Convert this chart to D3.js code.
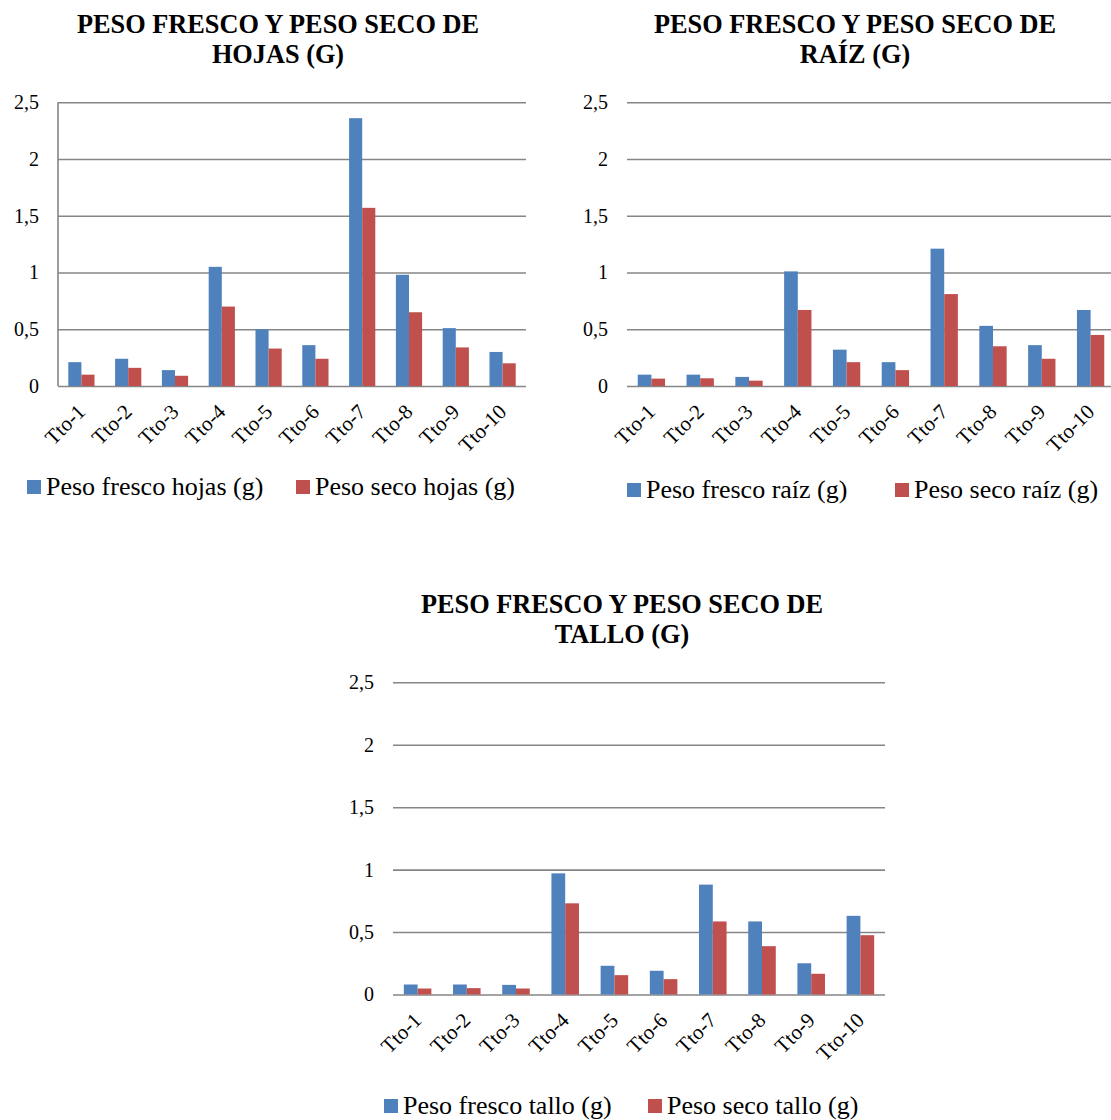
<!DOCTYPE html>
<html>
<head>
<meta charset="utf-8">
<script src="https://cdn.jsdelivr.net/npm/d3@7"></script>
<style>
  html, body { margin: 0; padding: 0; background: #fff; }
  svg { display: block; font-family: "Liberation Serif", "Times New Roman", serif; }
</style>
</head>
<body>
<svg id="chart" width="1111" height="1120"></svg>
<script>
// Treatments on the x axis
const categories = ["Tto-1", "Tto-2", "Tto-3", "Tto-4", "Tto-5", "Tto-6", "Tto-7", "Tto-8", "Tto-9", "Tto-10"];

// Leaves (g)
const hojasFresco = [0.21, 0.24, 0.14, 1.05, 0.50, 0.36, 2.36, 0.98, 0.51, 0.30];
const hojasSeco   = [0.10, 0.16, 0.09, 0.70, 0.33, 0.24, 1.57, 0.65, 0.34, 0.20];

// Root (g)
const raizFresco = [0.10, 0.10, 0.08, 1.01, 0.32, 0.21, 1.21, 0.53, 0.36, 0.67];
const raizSeco   = [0.065, 0.068, 0.047, 0.67, 0.21, 0.14, 0.81, 0.35, 0.24, 0.45];

// Stem (g)
const talloFresco = [0.08, 0.08, 0.077, 0.97, 0.23, 0.19, 0.88, 0.585, 0.25, 0.63];
const talloSeco   = [0.048, 0.051, 0.048, 0.73, 0.155, 0.123, 0.585, 0.387, 0.166, 0.475];

// Shared value axis
const yTicks = [0, 0.5, 1, 1.5, 2, 2.5];
const yMax = 2.5;

const seriesKeys = ["fresco", "seco"];
const colors = { fresco: "#4F81BD", seco: "#C0504D" };
const gridColor = "#868686";
const serif = "Liberation Serif, Times New Roman, serif";

const locale = d3.formatLocale({ decimal: ",", thousands: ".", grouping: [3], currency: ["", " €"] });
const fmt = locale.format(".1~f");

const svg = d3.select("#chart");

function drawChart(cfg) {
  const g = svg.append("g");
  const x0 = d3.scaleBand().domain(categories).range([cfg.left, cfg.right])
    .paddingInner(0.44).paddingOuter(0.22);
  const x1 = d3.scaleBand().domain(seriesKeys).range([0, x0.bandwidth()]);
  const y = d3.scaleLinear().domain([0, yMax]).range([cfg.bottom, cfg.top]);

  // Gridlines + value labels
  const yAxis = d3.axisLeft(y).tickValues(yTicks).tickFormat(fmt)
    .tickSize(-(cfg.right - cfg.left)).tickPadding(19);
  const ya = g.append("g").attr("transform", `translate(${cfg.left},0)`).call(yAxis);
  ya.attr("font-family", serif);
  ya.select(".domain").remove();
  ya.selectAll(".tick line").attr("stroke", gridColor).attr("stroke-width", 1.6);
  ya.selectAll(".tick text").attr("font-size", 20).attr("fill", "#000");

  if (cfg.vAxis) {
    g.append("line").attr("x1", cfg.left).attr("x2", cfg.left)
      .attr("y1", y(yMax)).attr("y2", y(0))
      .attr("stroke", gridColor).attr("stroke-width", 1.6);
  }

  // Bars
  const rows = categories.map((c, i) => ({ cat: c, fresco: cfg.fresco[i], seco: cfg.seco[i] }));
  const groups = g.append("g").selectAll("g").data(rows).join("g")
    .attr("transform", d => `translate(${x0(d.cat)},0)`);
  groups.selectAll("rect").data(d => seriesKeys.map(k => ({ key: k, value: d[k] }))).join("rect")
    .attr("x", d => x1(d.key))
    .attr("width", x1.bandwidth())
    .attr("y", d => y(d.value))
    .attr("height", d => y(0) - y(d.value))
    .attr("fill", d => colors[d.key]);

  // Category labels, rotated
  g.append("g").selectAll("text").data(categories).join("text")
    .attr("text-anchor", "end")
    .attr("font-size", 21)
    .attr("transform", d => `translate(${x0(d) + x0.bandwidth() / 2 + 5},${cfg.bottom + 27}) rotate(-45)`)
    .text(d => d);

  // Title
  const t = g.append("text").attr("text-anchor", "middle").attr("font-weight", "bold")
    .attr("font-size", 26.3).attr("fill", "#000");
  cfg.title.forEach((line, i) => {
    t.append("tspan").attr("x", cfg.titleX).attr("y", cfg.titleY + i * 29.5).text(line);
  });

  // Legend
  cfg.legend.forEach((item, i) => {
    g.append("rect").attr("x", item.x).attr("y", cfg.legendY - 15).attr("width", 14).attr("height", 14)
      .attr("fill", colors[seriesKeys[i]]);
    g.append("text").attr("x", item.x + 19).attr("y", cfg.legendY).attr("font-size", 26)
      .text(item.label);
  });
}

drawChart({
  left: 58, right: 526, top: 102.3, bottom: 386, vAxis: true,
  fresco: hojasFresco, seco: hojasSeco,
  title: ["PESO FRESCO Y PESO SECO DE", "HOJAS (G)"], titleX: 278, titleY: 33,
  legendY: 495,
  legend: [{ x: 27, label: "Peso fresco hojas (g)" }, { x: 296, label: "Peso seco hojas (g)" }]
});

drawChart({
  left: 627, right: 1115, top: 102.3, bottom: 386, vAxis: false,
  fresco: raizFresco, seco: raizSeco,
  title: ["PESO FRESCO Y PESO SECO DE", "RAÍZ (G)"], titleX: 855, titleY: 33,
  legendY: 498,
  legend: [{ x: 627, label: "Peso fresco raíz (g)" }, { x: 895, label: "Peso seco raíz (g)" }]
});

drawChart({
  left: 393, right: 885, top: 682.3, bottom: 994.5, vAxis: false,
  fresco: talloFresco, seco: talloSeco,
  title: ["PESO FRESCO Y PESO SECO DE", "TALLO (G)"], titleX: 622, titleY: 613,
  legendY: 1114,
  legend: [{ x: 384, label: "Peso fresco tallo (g)" }, { x: 648, label: "Peso seco tallo (g)" }]
});
</script>
</body>
</html>
